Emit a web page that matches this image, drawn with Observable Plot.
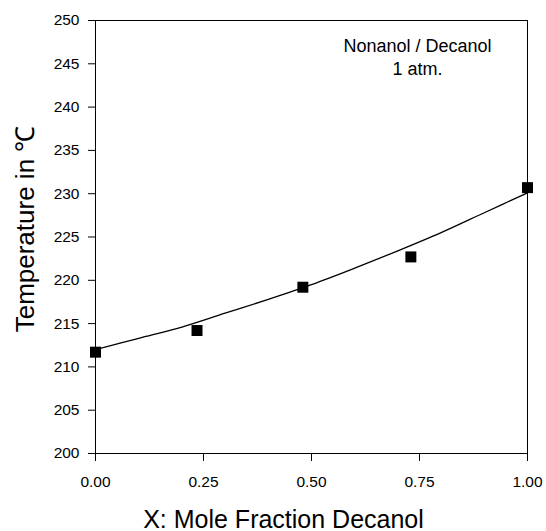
<!DOCTYPE html>
<html>
<head>
<meta charset="utf-8">
<script src="https://cdn.jsdelivr.net/npm/d3@7"></script>
<script src="https://cdn.jsdelivr.net/npm/@observablehq/plot@0.6"></script>
<style>
  html, body { margin: 0; padding: 0; background: #fff; }
  #chart svg { display: block; }
</style>
</head>
<body>
<div id="chart"></div>
<script>
// Measured points (mole fraction decanol, temperature °C)
const pointX = [0.00, 0.235, 0.48, 0.73, 1.00];
const pointT = [211.7, 214.2, 219.2, 222.7, 230.7];

// Fitted curve
const curveX = [0.0, 0.1, 0.2, 0.3, 0.4, 0.5, 0.6, 0.7, 0.8, 0.9, 1.0];
const curveT = [212.0, 213.3, 214.6, 216.2, 217.8, 219.5, 221.4, 223.4, 225.5, 227.8, 230.1];

const xTicks = [0, 0.25, 0.5, 0.75, 1];
const yTicks = [200, 205, 210, 215, 220, 225, 230, 235, 240, 245, 250];

const annotation = ["Nonanol / Decanol", "1 atm."];
const xLabel = "X: Mole Fraction Decanol";
const yLabel = "Temperature in ℃";

const points = pointX.map((x, i) => ({x, t: pointT[i]}));
const curve = curveX.map((x, i) => ({x, t: curveT[i]}));

const chart = Plot.plot({
  width: 546,
  height: 531,
  marginLeft: 95,
  marginRight: 19,
  marginTop: 20,
  marginBottom: 78,
  style: {fontFamily: "'Liberation Sans', Arial, sans-serif", fontSize: "16px", color: "#000", background: "#fff"},
  x: {domain: [0, 1]},
  y: {domain: [200, 250]},
  marks: [
    Plot.frame({stroke: "#000", strokeWidth: 1}),
    Plot.axisX({ticks: xTicks, tickFormat: d3.format(".2f"), tickSize: 8, tickPadding: 14, label: null, fontSize: 15.5}),
    Plot.axisY({ticks: yTicks, tickSize: 7, tickPadding: 9, label: null, fontSize: 15.5}),
    Plot.line(curve, {x: "x", y: "t", curve: "catmull-rom", stroke: "#000", strokeWidth: 1.3}),
    Plot.dot(points, {x: "x", y: "t", symbol: "square", r: 6.2, fill: "#000", stroke: "none"}),
    Plot.text([annotation.join("\n")], {frameAnchor: "top-right", dx: -110, dy: 15, textAnchor: "middle", lineAnchor: "top", lineHeight: 1.28, fontSize: 18, fill: "#000"}),
    Plot.text([xLabel], {frameAnchor: "bottom", dx: -28, dy: 74, lineAnchor: "bottom", fontSize: 25, fill: "#000"}),
    Plot.text([yLabel], {frameAnchor: "left", dx: -70, dy: -8, rotate: -90, textAnchor: "middle", lineAnchor: "middle", fontSize: 26, fill: "#000"})
  ]
});
document.getElementById("chart").appendChild(chart);
</script>
</body>
</html>
